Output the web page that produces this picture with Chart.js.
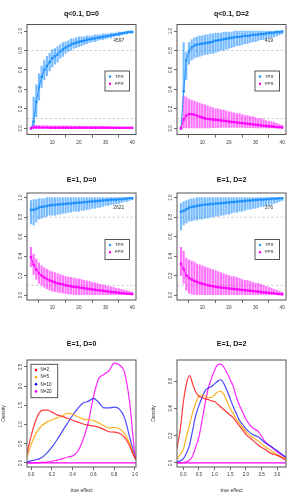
<!DOCTYPE html>
<html><head><meta charset="utf-8">
<script src="https://cdn.jsdelivr.net/npm/chart.js@4.4.1/dist/chart.umd.min.js"></script>
<style>
html,body{margin:0;padding:0;background:#fff;}
#wrap{position:relative;width:300px;height:500px;overflow:hidden;background:#fff;}
canvas{position:absolute;}
</style></head><body><div id="wrap">
<canvas id="p1" width="150" height="150" style="left:0;top:0"></canvas>
<canvas id="p2" width="150" height="150" style="left:150px;top:0"></canvas>
<canvas id="p3" width="150" height="150" style="left:0;top:166px"></canvas>
<canvas id="p4" width="150" height="150" style="left:150px;top:166px"></canvas>
<canvas id="p5" width="150" height="167" style="left:0;top:333px"></canvas>
<canvas id="p6" width="150" height="167" style="left:150px;top:333px"></canvas>
</div>
<script>
// ---------------- data ----------------
const xs = [2,3,4,5,6,7,8,9,10,11,12,13,14,15,16,17,18,19,20,21,22,23,24,25,26,27,28,29,30,31,32,33,34,35,36,37,38,39,40];
const rateTicksY = [0,0.2,0.4,0.6,0.8,1.0];
const rateTicksX = [10,20,30,40];
const refRates = [0.8,0.1];
const seriesNames = ['TPR','FPR'];
const titles = ['q<0.1, D=0','q<0.1, D=2','E=1, D=0','E=1, D=2','E=1, D=0','E=1, D=2'];
const counts = ['4597','419','2621','376'];

// panel 1: q<0.1, D=0
const tpr1   = [0,0.07,0.27,0.42,0.53,0.60,0.64,0.68,0.72,0.74, 0.76,0.79,0.81,0.83,0.845,0.86,0.87,0.88,0.89,0.895, 0.90,0.91,0.915,0.92,0.925,0.93,0.935,0.94,0.945,0.95, 0.955,0.96,0.965,0.97,0.975,0.98,0.985,0.99,0.99];
const tpr1Lo = [0,0,0.12,0.29,0.42,0.50,0.54,0.59,0.63,0.66, 0.68,0.72,0.74,0.77,0.79,0.80,0.82,0.83,0.84,0.85, 0.86,0.87,0.88,0.89,0.89,0.90,0.91,0.91,0.92,0.93, 0.93,0.94,0.95,0.95,0.96,0.97,0.97,0.98,0.98];
const tpr1Hi = [0,0.32,0.45,0.56,0.64,0.70,0.74,0.77,0.81,0.82, 0.84,0.86,0.88,0.89,0.90,0.92,0.92,0.93,0.94,0.94, 0.94,0.95,0.95,0.95,0.96,0.96,0.96,0.97,0.97,0.97, 0.98,0.98,0.98,0.99,0.99,0.99,1,1,1];
const fpr1   = [0,0.008,0.008,0.008,0.007,0.007,0.007,0.006,0.006,0.006, 0.006,0.006,0.005,0.005,0.005,0.005,0.005,0.005,0.005,0.005, 0.005,0.005,0.005,0.005,0.005,0.005,0.005,0.005,0.005,0.005, 0.004,0.004,0.004,0.004,0.004,0.004,0.004,0.004,0.004];
const fpr1Lo = [0,0,0,0,0,0,0,0,0,0, 0,0,0,0,0,0,0,0,0,0, 0,0,0,0,0,0,0,0,0,0, 0,0,0,0,0,0,0,0,0];
const fpr1Hi = [0,0.03,0.03,0.03,0.028,0.028,0.027,0.026,0.026,0.025, 0.025,0.025,0.024,0.024,0.024,0.023,0.023,0.023,0.022,0.022, 0.022,0.021,0.021,0.021,0.02,0.02,0.02,0.02,0.019,0.019, 0.018,0.018,0.017,0.017,0.016,0.016,0.015,0.015,0.014];

// panel 2: q<0.1, D=2
const tpr2   = [0,0.38,0.70,0.79,0.83,0.85,0.86,0.865,0.87,0.875, 0.88,0.885,0.89,0.90,0.905,0.91,0.915,0.92,0.925,0.93, 0.935,0.94,0.94,0.945,0.95,0.95,0.955,0.96,0.96,0.965, 0.97,0.97,0.975,0.98,0.98,0.985,0.99,0.99,0.995];
const tpr2Lo = [0,0.37,0.50,0.66,0.70,0.72,0.73,0.74,0.75,0.76, 0.76,0.77,0.77,0.78,0.79,0.80,0.80,0.81,0.82,0.83, 0.84,0.85,0.85,0.86,0.87,0.87,0.88,0.89,0.89,0.90, 0.91,0.91,0.92,0.93,0.93,0.94,0.95,0.96,0.97];
const tpr2Hi = [0,0.88,0.78,0.88,0.91,0.93,0.94,0.95,0.95,0.96, 0.96,0.97,0.97,0.98,0.98,0.98,0.99,0.99,0.99,0.99, 1,1,1,1,1,1,1,1,1,1, 1,1,1,1,1,1,1,1,1];
const fpr2   = [0,0.09,0.13,0.145,0.145,0.14,0.13,0.12,0.11,0.10, 0.097,0.093,0.09,0.087,0.084,0.08,0.077,0.074,0.07,0.066, 0.063,0.06,0.056,0.053,0.05,0.047,0.043,0.04,0.036,0.033, 0.03,0.027,0.024,0.021,0.018,0.015,0.012,0.01,0.008];
const fpr2Lo = [0,0,0,0,0,0,0,0,0,0, 0,0,0.005,0.005,0.005,0.01,0.01,0.01,0.01,0.01, 0.01,0.01,0.01,0.01,0.005,0.005,0.005,0.005,0,0, 0,0,0,0,0,0,0,0,0];
const fpr2Hi = [0,0.33,0.32,0.30,0.29,0.28,0.27,0.26,0.25,0.24, 0.23,0.22,0.21,0.20,0.20,0.19,0.19,0.18,0.17,0.17, 0.16,0.15,0.15,0.14,0.13,0.13,0.12,0.12,0.11,0.10, 0.10,0.09,0.08,0.07,0.07,0.06,0.05,0.04,0.03];

// panel 3: E=1, D=0
const tpr3   = [0.875,0.875,0.885,0.90,0.905,0.91,0.915,0.92,0.925,0.925, 0.93,0.93,0.935,0.935,0.94,0.94,0.945,0.945,0.95,0.95, 0.955,0.955,0.96,0.96,0.965,0.965,0.97,0.97,0.975,0.975, 0.98,0.98,0.98,0.985,0.985,0.99,0.99,0.995,0.995];
const tpr3Lo = [0.73,0.72,0.75,0.78,0.79,0.80,0.81,0.82,0.82,0.82, 0.83,0.83,0.84,0.84,0.85,0.85,0.86,0.86,0.86,0.87, 0.87,0.88,0.88,0.89,0.89,0.90,0.90,0.91,0.92,0.92, 0.93,0.93,0.94,0.94,0.95,0.96,0.96,0.97,0.98];
const tpr3Hi = [0.97,0.98,0.98,0.99,0.99,0.99,1,1,1,1, 1,1,1,1,1,1,1,1,1,1, 1,1,1,1,1,1,1,1,1,1, 1,1,1,1,1,1,1,1,1];
const fpr3   = [0.39,0.31,0.26,0.225,0.20,0.18,0.165,0.15,0.14,0.13, 0.12,0.115,0.11,0.10,0.095,0.09,0.085,0.082,0.078,0.074, 0.07,0.066,0.062,0.058,0.054,0.05,0.047,0.044,0.04,0.036, 0.032,0.029,0.026,0.023,0.02,0.017,0.014,0.012,0.01];
const fpr3Lo = [0.29,0.21,0.16,0.12,0.10,0.08,0.065,0.05,0.04,0.035, 0.03,0.025,0.02,0.015,0.01,0.01,0.005,0.005,0,0, 0,0,0,0,0,0,0,0,0,0, 0,0,0,0,0,0,0,0,0];
const fpr3Hi = [0.49,0.42,0.37,0.33,0.30,0.28,0.265,0.25,0.24,0.23, 0.22,0.21,0.20,0.19,0.185,0.18,0.175,0.17,0.165,0.16, 0.15,0.145,0.14,0.13,0.125,0.12,0.11,0.105,0.10,0.09, 0.085,0.08,0.07,0.065,0.06,0.05,0.045,0.04,0.03];

// panel 4: E=1, D=2
const tpr4   = [0.855,0.865,0.88,0.895,0.905,0.91,0.915,0.92,0.925,0.93, 0.93,0.935,0.935,0.94,0.94,0.945,0.945,0.95,0.95,0.955, 0.955,0.96,0.96,0.965,0.965,0.97,0.97,0.975,0.975,0.98, 0.98,0.98,0.985,0.985,0.99,0.99,0.99,0.995,0.995];
const tpr4Lo = [0.67,0.72,0.74,0.76,0.76,0.77,0.77,0.78,0.78,0.79, 0.79,0.80,0.80,0.81,0.81,0.82,0.82,0.83,0.83,0.84, 0.85,0.85,0.86,0.86,0.87,0.88,0.88,0.89,0.89,0.90, 0.91,0.91,0.92,0.93,0.93,0.94,0.95,0.96,0.97];
const tpr4Hi = [0.94,0.96,0.97,0.98,0.99,0.99,1,1,1,1, 1,1,1,1,1,1,1,1,1,1, 1,1,1,1,1,1,1,1,1,1, 1,1,1,1,1,1,1,1,1];
const fpr4   = [0.32,0.265,0.20,0.175,0.16,0.145,0.135,0.125,0.115,0.11, 0.10,0.095,0.09,0.085,0.08,0.077,0.074,0.071,0.068,0.065, 0.062,0.059,0.056,0.053,0.05,0.047,0.044,0.041,0.038,0.035, 0.031,0.028,0.025,0.022,0.019,0.016,0.013,0.01,0.007];
const fpr4Lo = [0.20,0.12,0.05,0.02,0.01,0,0,0,0,0, 0,0,0,0,0,0,0,0,0,0, 0,0,0,0,0,0,0,0,0,0, 0,0,0,0,0,0,0,0,0];
const fpr4Hi = [0.49,0.45,0.38,0.36,0.35,0.34,0.32,0.31,0.30,0.29, 0.28,0.27,0.26,0.25,0.24,0.23,0.22,0.21,0.20,0.19, 0.19,0.18,0.17,0.16,0.15,0.15,0.14,0.13,0.12,0.12, 0.11,0.10,0.09,0.08,0.07,0.06,0.05,0.04,0.03];

// density panels
const groupNames = ['N=2','N=5','N=10','N=20'];
const dens1X   = [-0.04,0,0.05,0.1,0.15,0.2,0.25,0.3,0.35,0.4,0.45,0.5,0.55,0.6,0.65,0.7,0.75,0.8,0.85,0.9,0.95,1.0,1.02];
const dens1N2  = [0.25,0.70,1.15,1.36,1.38,1.32,1.25,1.21,1.16,1.11,1.06,1.01,0.98,0.96,0.93,0.87,0.81,0.80,0.77,0.66,0.43,0.12,0.06];
const dens1N5  = [0.15,0.48,0.78,0.96,1.06,1.12,1.17,1.22,1.29,1.27,1.20,1.14,1.12,1.10,1.04,0.96,0.91,0.92,0.89,0.76,0.50,0.14,0.08];
const dens1N10 = [0.02,0.05,0.08,0.13,0.25,0.41,0.60,0.82,1.03,1.24,1.42,1.56,1.60,1.68,1.58,1.43,1.43,1.45,1.40,1.17,0.66,0.15,0.08];
const dens1N20 = [0,0,0,0.01,0.02,0.04,0.07,0.10,0.15,0.18,0.30,0.60,1.05,1.72,2.19,2.30,2.40,2.60,2.55,2.35,1.55,0.22,0.10];
const dens2X   = [-0.21,-0.1,0,0.1,0.2,0.3,0.4,0.5,0.6,0.7,0.8,0.9,1.0,1.1,1.2,1.3,1.4,1.5,1.6,1.7,1.8,1.9,2.0,2.2,2.4,2.6,2.8,3.0,3.2,3.28];
const dens2N2  = [0.10,0.24,0.44,0.58,0.64,0.58,0.52,0.49,0.48,0.47,0.465,0.455,0.45,0.43,0.41,0.39,0.37,0.35,0.33,0.30,0.27,0.24,0.21,0.17,0.13,0.10,0.07,0.055,0.03,0.02];
const dens2N5  = [0.03,0.06,0.10,0.19,0.28,0.37,0.44,0.49,0.50,0.49,0.48,0.48,0.50,0.52,0.525,0.50,0.45,0.40,0.36,0.32,0.29,0.26,0.23,0.19,0.16,0.12,0.09,0.06,0.04,0.03];
const dens2N10 = [0.005,0.015,0.03,0.07,0.13,0.24,0.35,0.42,0.48,0.53,0.55,0.56,0.58,0.60,0.61,0.58,0.53,0.47,0.41,0.36,0.31,0.28,0.25,0.21,0.19,0.15,0.12,0.09,0.055,0.04];
const dens2N20 = [0,0,0.003,0.008,0.02,0.05,0.12,0.19,0.31,0.44,0.55,0.62,0.68,0.72,0.725,0.70,0.66,0.61,0.56,0.48,0.42,0.37,0.32,0.26,0.23,0.16,0.12,0.08,0.05,0.04];
const dens1TicksX = [0,0.2,0.4,0.6,0.8,1.0];
const dens1TicksY = [0,0.5,1.0,1.5,2.0,2.5];
const dens2TicksX = [0,0.5,1.0,1.5,2.0,2.5,3.0];
const dens2TicksY = [0,0.2,0.4,0.6];

// ---------------- styling ----------------
Chart.defaults.font.family = "'Liberation Sans', Arial, Helvetica, sans-serif";
Chart.defaults.color = '#333';
const BLUE = '#1E90FF', BLUE_BAR = 'rgba(30,144,255,0.6)';
const MAG = '#FF00FF', MAG_BAR = 'rgba(255,0,255,0.55)';
const densColors = ['rgba(255,0,0,0.78)','rgba(255,165,0,0.85)','rgba(0,0,255,0.72)','rgba(255,0,255,0.85)'];
const densLegendColors = ['#FF0000','#FFA500','#0000FF','#FF00FF'];

const framePlugin = {
  id: 'frame',
  afterDraw(c) {
    const a = c.chartArea, ctx = c.ctx;
    ctx.save(); ctx.strokeStyle = '#555'; ctx.lineWidth = 1;
    ctx.strokeRect(a.left, a.top, a.right - a.left, a.bottom - a.top);
    ctx.restore();
  }
};
const refPlugin = {
  id: 'refLines',
  beforeDatasetsDraw(c, args, o) {
    if (!o || !o.values) return;
    const a = c.chartArea, ctx = c.ctx, ys = c.scales.y;
    ctx.save(); ctx.strokeStyle = o.color; ctx.lineWidth = o.width; ctx.setLineDash(o.dash || []);
    for (const v of o.values) {
      const y = ys.getPixelForValue(v);
      ctx.beginPath(); ctx.moveTo(a.left, y); ctx.lineTo(a.right, y); ctx.stroke();
    }
    ctx.restore();
  }
};
const notePlugin = {
  id: 'note',
  afterDatasetsDraw(c, args, o) {
    if (!o || !o.text) return;
    const ctx = c.ctx;
    ctx.save(); ctx.font = "5px 'Liberation Sans', Arial, sans-serif"; ctx.fillStyle = '#333';
    ctx.textAlign = 'center'; ctx.textBaseline = 'middle';
    ctx.fillText(o.text, c.scales.x.getPixelForValue(o.x), c.scales.y.getPixelForValue(o.y));
    ctx.restore();
  }
};
const legendPlugin = {
  id: 'boxLegend',
  afterDraw(c, args, o) {
    if (!o || !o.labels) return;
    const a = c.chartArea, ctx = c.ctx;
    const L = a.left + o.dx, T = a.top + o.dy;
    ctx.save();
    ctx.fillStyle = '#fff'; ctx.fillRect(L, T, o.w, o.h);
    ctx.strokeStyle = '#444'; ctx.lineWidth = 0.9; ctx.strokeRect(L, T, o.w, o.h);
    ctx.font = o.size + "px 'Liberation Sans', Arial, sans-serif"; ctx.textBaseline = 'middle'; ctx.textAlign = 'left';
    for (let i = 0; i < o.labels.length; i++) {
      const y = T + o.y0 + i * o.step;
      ctx.fillStyle = o.colors[i];
      ctx.beginPath(); ctx.arc(L + o.mx, y, o.r, 0, Math.PI * 2); ctx.fill();
      ctx.fillStyle = '#222'; ctx.fillText(o.labels[i], L + o.tx, y);
    }
    ctx.restore();
  }
};

function tickCfg(vals, fmt, extra) {
  return Object.assign({
    afterBuildTicks: s => { s.ticks = vals.map(v => ({ value: v })); },
    grid: { display: true, drawOnChartArea: false, drawTicks: true, tickLength: 3, color: '#444', lineWidth: 0.8 },
    border: { display: false },
  }, extra, { ticks: Object.assign({ font: { size: 4.6 }, color: '#333', callback: fmt, autoSkip: false }, extra.ticks || {}) });
}

function rateChart(id, title, ymin, ymax, titlePad, tpr, tprLo, tprHi, fpr, fprLo, fprHi, count) {
  const bars = (lo, hi) => xs.map((x, i) => ({ x: x, y: [lo[i], hi[i]] }));
  const pts = v => xs.map((x, i) => ({ x: x, y: v[i] }));
  return new Chart(document.getElementById(id), {
    type: 'bar',
    data: {
      datasets: [
        { type: 'bar', label: seriesNames[0] + ' range', data: bars(tprLo, tprHi), backgroundColor: BLUE_BAR, borderWidth: 0, barThickness: 1.5, grouped: false, order: 4 },
        { type: 'bar', label: seriesNames[1] + ' range', data: bars(fprLo, fprHi), backgroundColor: MAG_BAR, borderWidth: 0, barThickness: 1.5, grouped: false, order: 3 },
        { type: 'line', label: seriesNames[0], data: pts(tpr), borderColor: BLUE, backgroundColor: BLUE, borderWidth: 1, pointRadius: 1.7, pointStyle: 'rect', pointBorderWidth: 0, order: 2 },
        { type: 'line', label: seriesNames[1], data: pts(fpr), borderColor: MAG, backgroundColor: MAG, borderWidth: 1, pointRadius: 1.7, pointStyle: 'rect', pointBorderWidth: 0, order: 1 },
      ]
    },
    options: {
      responsive: false, animation: false, events: [],
      layout: { padding: { left: 0, right: 14, top: 0, bottom: 0 } },
      plugins: {
        legend: { display: false }, tooltip: { enabled: false },
        title: { display: true, text: title, fullSize: false, color: '#111', font: { size: 7, weight: 'bold', lineHeight: 1 }, padding: titlePad },
        refLines: { values: refRates, color: '#C8C8C8', width: 0.9, dash: [2.5, 2] },
        note: { text: count, x: 35, y: 0.9 },
        boxLegend: { labels: seriesNames, colors: [BLUE, MAG], dx: 78, dy: 46.5, w: 24.5, h: 20, y0: 5.5, step: 7.3, mx: 5, tx: 10, r: 1.2, size: 4.3 }
      },
      scales: {
        x: tickCfg(rateTicksX, v => String(v), { type: 'linear', min: 0.5, max: 41.45, offset: false, afterFit: s => { s.height = id === 'p1' || id === 'p2' ? 15.5 : 16; }, ticks: { padding: 2, maxRotation: 0 } }),
        y: tickCfg(rateTicksY, v => v.toFixed(1), { type: 'linear', min: ymin, max: ymax, afterFit: s => { s.width = 27; }, ticks: { padding: 0, minRotation: 90, maxRotation: 90, crossAlign: 'center' } })
      }
    },
    plugins: [framePlugin, refPlugin, notePlugin, legendPlugin]
  });
}

rateChart('p1', titles[0], -0.064, 1.067, { top: 10.5, bottom: 7 }, tpr1, tpr1Lo, tpr1Hi, fpr1, fpr1Lo, fpr1Hi, counts[0]);
rateChart('p2', titles[1], -0.064, 1.067, { top: 10.5, bottom: 7 }, tpr2, tpr2Lo, tpr2Hi, fpr2, fpr2Lo, fpr2Hi, counts[1]);
rateChart('p3', titles[2], -0.051, 1.048, { top: 10.5, bottom: 9.5 }, tpr3, tpr3Lo, tpr3Hi, fpr3, fpr3Lo, fpr3Hi, counts[2]);
rateChart('p4', titles[3], -0.051, 1.048, { top: 10.5, bottom: 9.5 }, tpr4, tpr4Lo, tpr4Hi, fpr4, fpr4Lo, fpr4Hi, counts[3]);

function densChart(id, title, gx, series, xmin, xmax, ymin, ymax, ticksX, ticksY, showLegend) {
  const ds = series.map((s, k) => ({
    type: 'line', label: groupNames[k], data: gx.map((x, i) => ({ x: x, y: s[i] })),
    borderColor: densColors[k], borderWidth: 1.2, pointRadius: 0, cubicInterpolationMode: 'monotone', fill: false
  }));
  return new Chart(document.getElementById(id), {
    type: 'line',
    data: { datasets: ds },
    options: {
      responsive: false, animation: false, events: [],
      layout: { padding: { left: 0, right: 14, top: 0, bottom: 0 } },
      plugins: {
        legend: { display: false }, tooltip: { enabled: false },
        title: { display: true, text: title, fullSize: false, color: '#111', font: { size: 7, weight: 'bold', lineHeight: 1 }, padding: { top: 7.5, bottom: 12.5 } },
        refLines: { values: [0], color: '#FF00FF', width: 1.2, dash: [] },
        boxLegend: showLegend ? { labels: groupNames, colors: densLegendColors, dx: 4, dy: 4.3, w: 26.7, h: 33.4, y0: 5.8, step: 7.1, mx: 5, tx: 9.5, r: 1.3, size: 4.6 } : {}
      },
      scales: {
        x: tickCfg(ticksX, v => v.toFixed(1), { type: 'linear', min: xmin, max: xmax, afterFit: s => { s.height = 33; }, ticks: { padding: 2, maxRotation: 0 },
             title: { display: true, text: 'true effect', font: { size: 5, lineHeight: 1.2 }, color: '#333', padding: { top: 0, bottom: 6.4 } } }),
        y: tickCfg(ticksY, v => v.toFixed(1), { type: 'linear', min: ymin, max: ymax, afterFit: s => { s.width = 27; }, ticks: { padding: 0, minRotation: 90, maxRotation: 90, crossAlign: 'center' },
             title: { display: true, text: 'Density', font: { size: 5, lineHeight: 1.2 }, color: '#333', padding: { top: 1, bottom: 0 } } })
      }
    },
    plugins: [framePlugin, refPlugin, legendPlugin]
  });
}

densChart('p5', titles[4], dens1X, [dens1N2, dens1N5, dens1N10, dens1N20], -0.04, 1.01, -0.11, 2.68, dens1TicksX, dens1TicksY, true);
densChart('p6', titles[5], dens2X, [dens2N2, dens2N5, dens2N10, dens2N20], -0.2, 3.28, -0.03, 0.755, dens2TicksX, dens2TicksY, false);
</script>
</body></html>
